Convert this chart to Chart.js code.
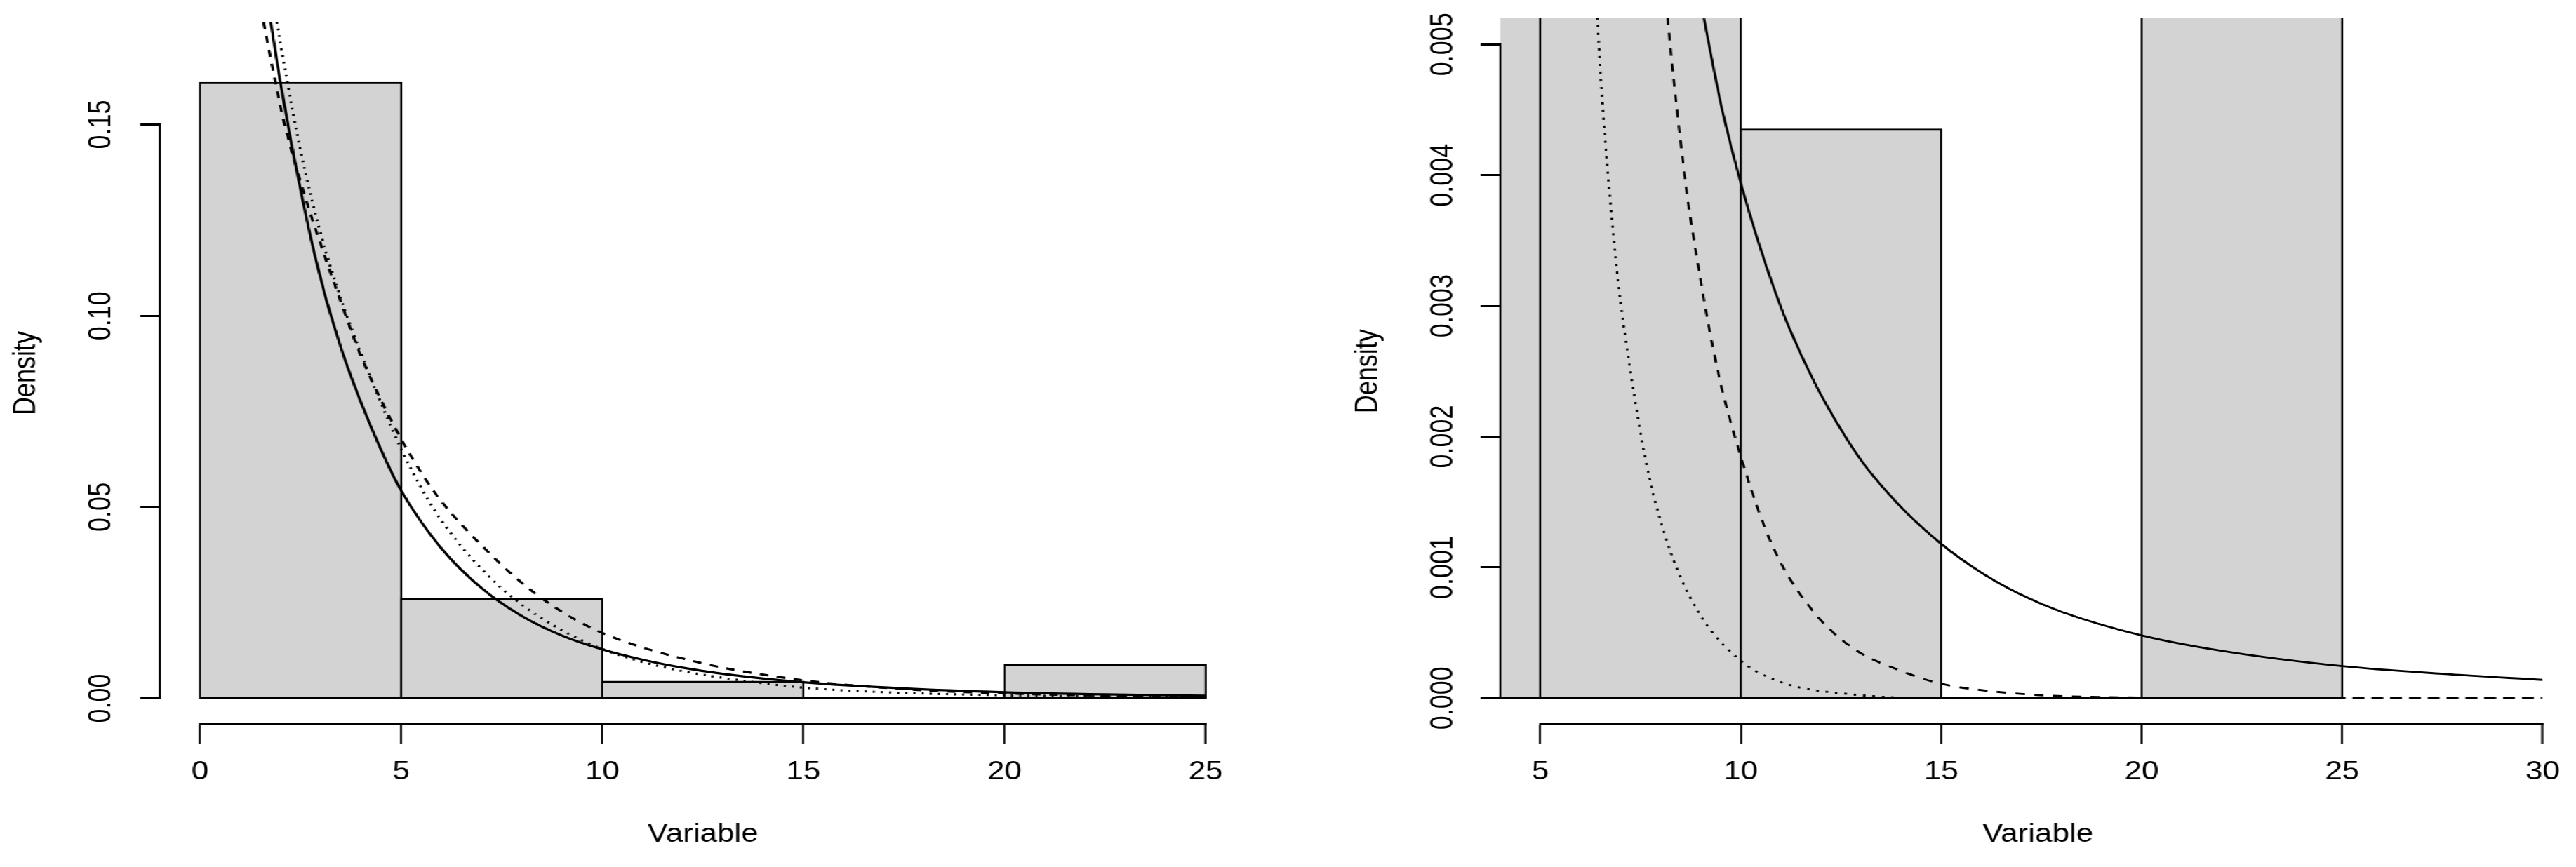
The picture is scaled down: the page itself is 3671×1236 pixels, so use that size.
<!DOCTYPE html>
<html>
<head>
<meta charset="utf-8">
<script src="https://cdn.jsdelivr.net/npm/chart.js@4.4.1/dist/chart.umd.min.js"></script>
<style>
  html, body { margin: 0; padding: 0; background: #fff; overflow: hidden; }
  #page { width: 3671px; height: 1236px; overflow: hidden; position: relative; }
  /* the original figure is stretched sideways, so draw narrow and widen it */
  #stage { position: absolute; left: 0; top: 0; width: 3010px; height: 1236px;
           transform: scaleX(1.21960); transform-origin: 0 0; }
  canvas { position: absolute; top: 0; }
  #left { left: 0; }
  #right { left: 1505px; }
</style>
</head>
<body>
<div id="page"><div id="stage">
  <canvas id="left" width="1505" height="1236"></canvas>
  <canvas id="right" width="1505" height="1236"></canvas>
</div></div>
<script>
// histogram of the variable, bins of width 5
const binEdges = [0, 5, 10, 15, 20, 25];
const binMids = [2.5, 7.5, 12.5, 17.5, 22.5];
const binDensity = [0.1609, 0.0261, 0.00435, 0, 0.0087];

// left panel: fitted densities
const leftSolidX = [1.76, 2, 2.5, 3, 3.5, 4, 4.5, 5, 6, 7, 8, 9, 10, 11, 12, 13, 15, 17.5, 20, 22.5, 25];
const leftSolidY = [0.1768, 0.161, 0.1329, 0.1097, 0.0918, 0.0774, 0.065, 0.0543, 0.0392, 0.0288, 0.0215, 0.0164, 0.0128, 0.0101, 0.008, 0.0064, 0.0042, 0.0026, 0.0016, 0.00102, 0.00067];
const leftDashX = [1.58, 1.85, 2.05, 2.5, 3, 3.5, 4, 4.5, 5, 5.5, 6, 7, 8, 9, 10, 11, 12, 13, 14, 15, 16, 18, 20, 22.5, 25];
const leftDashY = [0.1768, 0.1624, 0.1524, 0.135, 0.1187, 0.1037, 0.0895, 0.078, 0.0678, 0.059, 0.0515, 0.04, 0.0302, 0.0226, 0.0171, 0.0133, 0.0104, 0.008, 0.0062, 0.0047, 0.0036, 0.0021, 0.0013, 0.0007, 0.0004];
const leftDotX = [1.91, 2.17, 2.5, 3, 3.5, 4, 4.5, 5, 5.5, 6, 7, 8, 9, 10, 11, 12, 13.5, 15, 17, 20, 22.5, 25];
const leftDotY = [0.1768, 0.1612, 0.1432, 0.1215, 0.1045, 0.0903, 0.0772, 0.0652, 0.055, 0.0465, 0.0338, 0.0245, 0.0178, 0.0129, 0.0095, 0.0071, 0.0046, 0.0028, 0.0016, 0.0008, 0.0005, 0.00035];

// right panel: close-up of the tail
const rightSolidX = [9.08, 9.5, 10, 10.5, 11, 11.5, 12, 13, 14, 15, 16, 17, 18, 20, 22, 25, 27.5, 30];
const rightSolidY = [0.0052, 0.00455, 0.00394, 0.00343, 0.00299, 0.00263, 0.00232, 0.00182, 0.00146, 0.00118, 0.00096, 0.00079, 0.00066, 0.00048, 0.000362, 0.000245, 0.000186, 0.00014];
const rightDashX = [8.17, 8.36, 8.63, 8.99, 9.43, 10.01, 10.77, 11.67, 12.74, 14.07, 15.01, 16.19, 17.68, 20, 25, 30];
const rightDashY = [0.005206, 0.004636, 0.003923, 0.00321, 0.002498, 0.001838, 0.001179, 0.000716, 0.000395, 0.0002, 0.00011, 0.000055, 0.00002, 0.000005, 0, 0];
const rightDotX = [6.42, 6.53, 6.71, 6.93, 7.25, 7.65, 8.18, 8.9, 9.92, 10.95, 12.74, 15, 20, 25, 30];
const rightDotY = [0.005206, 0.004636, 0.003923, 0.00321, 0.002498, 0.001785, 0.001179, 0.00068, 0.000306, 0.000128, 0.00003, 0, 0, 0, 0];

// ticks
const leftXTicks = [0, 5, 10, 15, 20, 25];
const leftYTicks = [0, 0.05, 0.10, 0.15];
const leftYLabels = ['0.00', '0.05', '0.10', '0.15'];
const rightXTicks = [5, 10, 15, 20, 25, 30];
const rightYTicks = [0, 0.001, 0.002, 0.003, 0.004, 0.005];
const rightYLabels = ['0.000', '0.001', '0.002', '0.003', '0.004', '0.005'];

const K = 3671 / 3010;          // sideways stretch of the stage
const FONT = "'Liberation Sans', Arial, Helvetica, sans-serif";
const FS = 36;
const TL = 28;                  // tick length in page pixels
Chart.defaults.font.family = FONT;
Chart.defaults.color = '#000';

const pts = (xs, ys) => xs.map((x, i) => ({ x, y: ys[i] }));

function measure(txt) {
  const c = document.createElement('canvas').getContext('2d');
  c.font = `${FS}px ${FONT}`;
  return c.measureText(txt).width;
}

// R-style axis lines: only from the first to the last tick
const rAxes = {
  id: 'rAxes',
  afterDraw(chart) {
    const { ctx, chartArea, scales } = chart;
    const xt = scales.x.ticks.map(t => t.value);
    const yt = scales.y.ticks.map(t => t.value);
    ctx.save();
    ctx.strokeStyle = '#000';
    ctx.lineWidth = 3;
    ctx.beginPath();
    ctx.moveTo(scales.x.getPixelForValue(xt[0]) - 1.5 / K, chartArea.bottom);
    ctx.lineTo(scales.x.getPixelForValue(xt[xt.length - 1]) + 1.5 / K, chartArea.bottom);
    ctx.stroke();
    ctx.lineWidth = 3 / K;
    ctx.beginPath();
    ctx.moveTo(chartArea.left, scales.y.getPixelForValue(yt[0]) + 1.5);
    ctx.lineTo(chartArea.left, scales.y.getPixelForValue(yt[yt.length - 1]) - 1.5);
    ctx.stroke();
    ctx.restore();
  }
};

function curve(data, dash, w) {
  return {
    type: 'line', data, borderColor: '#000', borderWidth: w, borderDash: dash,
    pointRadius: 0, fill: false, cubicInterpolationMode: 'monotone', order: 1
  };
}

// p holds page-pixel positions; they are divided by K for the narrow stage
function panel(id, p) {
  const yAxisW = p.yAxisW / K;
  const yPad = yAxisW - TL / K - p.yLabelCx / K - measure(p.yLabels[p.yLabels.length - 1]) / 2;
  new Chart(document.getElementById(id), {
    type: 'bar',
    data: {
      datasets: [
        {
          type: 'bar', data: pts(binMids, binDensity), backgroundColor: '#d3d3d3',
          borderColor: '#000', borderWidth: { top: 3, bottom: 3, left: 3 / K, right: 3 / K },
          borderSkipped: false, inflateAmount: 1.3,
          barPercentage: 1, categoryPercentage: 1, grouped: false, order: 10
        },
        {
          type: 'line', data: [{ x: binEdges[0], y: 0 }, { x: binEdges[binEdges.length - 1], y: 0 }],
          borderColor: '#000', borderWidth: 3, pointRadius: 0, order: 5
        },
        curve(pts(p.solid[0], p.solid[1]), [], p.lw),
        curve(pts(p.dash[0], p.dash[1]), p.dashPat, p.lw),
        curve(pts(p.dot[0], p.dot[1]), p.dotPat, p.lw)
      ]
    },
    options: {
      responsive: false,
      animation: false,
      events: [],
      layout: { padding: { top: 26, right: p.padRight / K, left: 0, bottom: 0 } },
      plugins: { legend: { display: false }, tooltip: { enabled: false } },
      scales: {
        x: {
          type: 'linear', min: p.xMin, max: p.xMax, offset: false,
          afterBuildTicks: s => { s.ticks = p.xTicks.map(v => ({ value: v })); },
          afterFit: s => { s.height = 1236 - 1032.6; },
          ticks: { font: { size: FS, lineHeight: 1.2 }, padding: 19, maxRotation: 0, autoSkip: false,
                   callback: v => String(v) },
          grid: { offset: false, drawOnChartArea: false, drawTicks: true, tickLength: TL,
                  tickWidth: 3 / K, tickColor: '#000' },
          border: { display: false },
          title: { display: true, text: 'Variable', font: { size: FS, lineHeight: 1.2 },
                   padding: { top: 0, bottom: 24 } }
        },
        y: {
          type: 'linear', min: p.yMin, max: p.yMax,
          afterBuildTicks: s => { s.ticks = p.yTicks.map(v => ({ value: v })); },
          afterFit: s => { s.width = yAxisW; },
          ticks: { font: { size: FS, lineHeight: 1.2 }, padding: yPad, minRotation: 90, maxRotation: 90,
                   crossAlign: 'center', autoSkip: false,
                   callback: (v, i) => p.yLabels[i] },
          grid: { drawOnChartArea: false, drawTicks: true, tickLength: TL / K, tickWidth: 3, tickColor: '#000' },
          border: { display: false },
          title: { display: true, text: 'Density', font: { size: FS, lineHeight: 1.2 },
                   padding: { top: p.yTitleCx / K - 21.6, bottom: 0 } }
        }
      }
    },
    plugins: [rAxes]
  });
}

const rightLeft = 1505 * K;     // page x of the right canvas

panel('left', {
  xMin: -1, xMax: 26, yMin: -0.0068, yMax: 0.1768,
  xTicks: leftXTicks, yTicks: leftYTicks, yLabels: leftYLabels,
  yAxisW: 227.7, padRight: rightLeft - 1775.5, yLabelCx: 145, yTitleCx: 38,
  solid: [leftSolidX, leftSolidY], dash: [leftDashX, leftDashY], dot: [leftDotX, leftDotY],
  lw: 3.2, dashPat: [10, 10], dotPat: [2.5, 7]
});

panel('right', {
  xMin: 4, xMax: 30.82, yMin: -0.0002, yMax: 0.0052,
  xTicks: rightXTicks, yTicks: rightYTicks, yLabels: rightYLabels,
  yAxisW: 2138 - rightLeft, padRight: 0, yLabelCx: 2057 - rightLeft, yTitleCx: 1950 - rightLeft,
  solid: [rightSolidX, rightSolidY], dash: [rightDashX, rightDashY], dot: [rightDotX, rightDotY],
  lw: 2.9, dashPat: [11, 11], dotPat: [3, 8]
});
</script>
</body>
</html>
